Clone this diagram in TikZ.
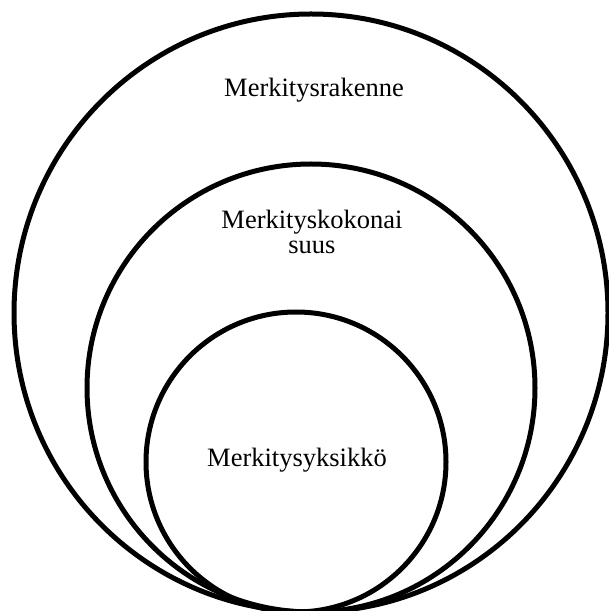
\documentclass[tikz,border=0pt]{standalone}
\usepackage{fontspec}
\setmainfont{Liberation Serif}
\begin{document}
\begin{tikzpicture}[line width=5pt, x=1pt, y=1pt, label/.style={font=\fontsize{26.5}{25}\selectfont, inner sep=0pt, align=center}]
\def \w{609};
\def \h{611};
\useasboundingbox (0,0) rectangle (\w,\h);
\clip (0,0) rectangle (\w,\h);
\draw (311,298) ellipse (297 and 299);
\draw (311,223) circle (224);
\draw (296,149) circle (150);
\node[label, anchor=base] (rakenne) at (314,514) {Merkitysrakenne};
\node[label, anchor=base] (kokonaisuus) at (312,357) {Merkityskokonai\\suus};
\node[label, anchor=base] (yksikko) at (297,144) {Merkitysyksikkö};
\end{tikzpicture}
\end{document}
